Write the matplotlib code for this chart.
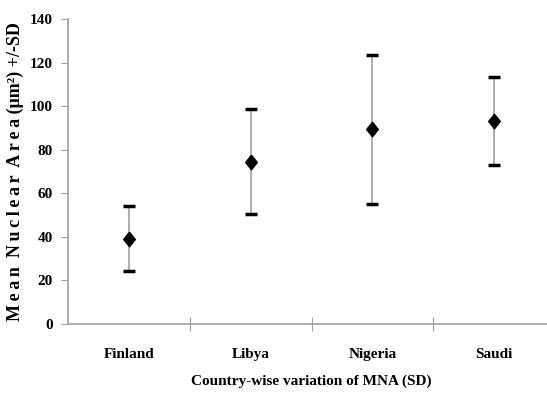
import numpy as np
import matplotlib
matplotlib.use('Agg')
import matplotlib.pyplot as plt

countries = ['Finland', 'Libya', 'Nigeria', 'Saudi']
mean_area = [39.2, 74.5, 89.3, 93.2]
sd_area = [15.0, 24.0, 34.0, 20.0]

plt.rcParams['font.family'] = ['Liberation Serif', 'DejaVu Serif']
plt.rcParams['font.weight'] = 'bold'

fig = plt.figure(figsize=(5.47, 3.99), dpi=100)
ax = fig.add_axes([68 / 547, 75 / 399, 487 / 547, 305 / 399])

x = np.arange(len(countries)) + 0.5
line, caps, bars = ax.errorbar(x, mean_area, yerr=sd_area, fmt='none',
                               ecolor='#a0a0a0', elinewidth=1.2,
                               capsize=4.5, capthick=2.5)
for c in caps:
    c.set_markeredgecolor('black')
    c.set_color('black')
# diamonds, slightly taller than wide
diamond = [(0, 1), (0.8, 0), (0, -1), (-0.8, 0), (0, 1)]
ax.plot(x, mean_area, linestyle='none', marker=diamond, markersize=10.5,
        color='black', zorder=3)

ax.set_xlim(0, 4)
ax.set_ylim(0, 140)
ax.set_yticks(np.arange(0, 141, 20))
ax.set_xticks([1, 2, 3])
ax.set_xticklabels([])
ax.set_xticks(x, minor=True)
ax.set_xticklabels(countries, minor=True, fontsize=11, fontweight='bold')
ax.tick_params(axis='x', which='minor', length=0, pad=17)
ax.tick_params(axis='x', which='major', direction='inout', length=10, color='#a0a0a0')
ax.tick_params(axis='y', direction='out', length=5, color='#a0a0a0', labelsize=11, pad=6)
for lab in ax.get_yticklabels():
    lab.set_fontweight('bold')

for s in ['top', 'right']:
    ax.spines[s].set_visible(False)
for s in ['left', 'bottom']:
    ax.spines[s].set_color('#a0a0a0')
    ax.spines[s].set_linewidth(1.2)

sp = '\u2009'
ylab = sp.join('Mean') + '  ' + sp.join('Nuclear') + '  ' + sp.join('Area') + ' (\u03bcm\u00b2) +/-SD'
ax.set_ylabel(ylab, fontsize=13, fontweight='bold', labelpad=4)
ax.set_xlabel('Country-wise variation of MNA (SD)', fontsize=11, fontweight='bold', labelpad=10)

fig.savefig('out.png', dpi=100)
